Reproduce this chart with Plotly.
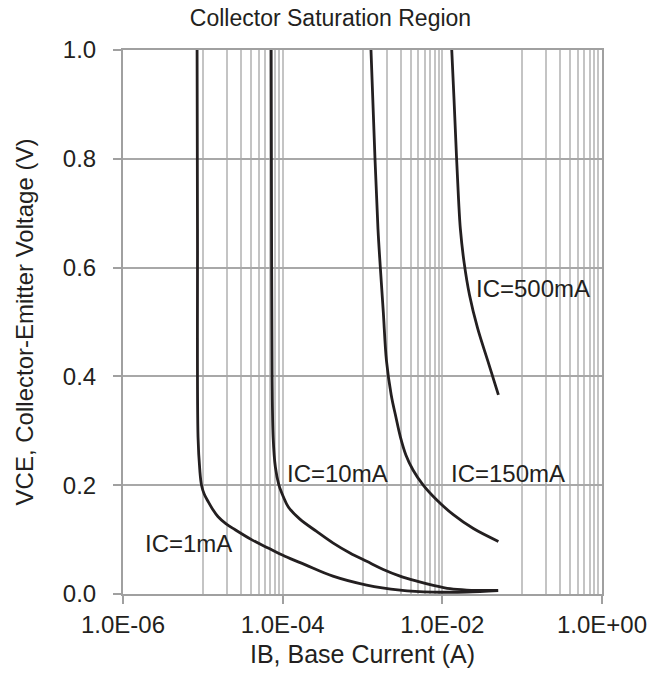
import numpy as np
import plotly.graph_objects as go

# ---- data ----
ib_1ma = [8.47e-6, 8.57e-6, 8.71e-6, 9.16e-6, 9.62e-6, 1.043e-5, 1.164e-5, 1.314e-5, 1.553e-5,
          1.940e-5, 2.52e-5, 4.07e-5, 6.58e-5, 1.066e-4, 1.90e-4, 4.26e-4, 1.128e-3, 2.95e-3,
          7.64e-3, 2.02e-2, 5.0e-2]
vce_1ma = [1.0, 0.671, 0.288, 0.228, 0.2005, 0.1832, 0.170, 0.1568, 0.142,
           0.1294, 0.1185, 0.100, 0.0844, 0.0693, 0.054, 0.0328, 0.0164, 0.0073,
           0.0036, 0.0036, 0.0064]

ib_10ma = [7.18e-5, 7.26e-5, 7.38e-5, 7.60e-5, 8.10e-5, 8.96e-5, 1.020e-4, 1.172e-4, 1.644e-4,
           2.66e-4, 4.30e-4, 6.96e-4, 1.128e-3, 1.82e-3, 2.95e-3, 4.78e-3, 7.71e-3, 1.25e-2,
           2.02e-2, 5.0e-2]
vce_10ma = [1.0, 0.671, 0.3975, 0.288, 0.2334, 0.2005, 0.1787, 0.1604, 0.1376,
            0.115, 0.0935, 0.0753, 0.060, 0.045, 0.0328, 0.0237, 0.0159, 0.0097,
            0.0073, 0.0067]

ib_150ma = [1.277e-3, 1.432e-3, 1.563e-3, 1.670e-3, 1.820e-3, 1.997e-3, 2.286e-3, 2.627e-3,
            2.991e-3, 3.505e-3, 4.292e-3, 5.728e-3, 8.46e-3, 1.373e-2, 2.447e-2, 5.04e-2]
vce_150ma = [1.0, 0.802, 0.671, 0.6016, 0.5196, 0.4284, 0.3664, 0.3245,
             0.2881, 0.2552, 0.2279, 0.2005, 0.1732, 0.1458, 0.1203, 0.0966]

ib_500ma = [1.312e-2, 1.402e-2, 1.507e-2, 1.596e-2, 1.682e-2, 1.871e-2, 2.193e-2, 2.759e-2,
            3.720e-2, 5.04e-2]
vce_500ma = [1.0, 0.908, 0.802, 0.7256, 0.671, 0.610, 0.549, 0.489, 0.428, 0.366]

series_names = ["IC=1mA", "IC=10mA", "IC=150mA", "IC=500mA"]
label_x = [6.58e-6, 4.85e-4, 6.58e-2, 1.37e-1]
label_y = [0.092, 0.2215, 0.2215, 0.5615]

x_tickvals = [1e-6, 1e-4, 1e-2, 1e0]
x_ticktext = ["1.0E-06", "1.0E-04", "1.0E-02", "1.0E+00"]
x_minor = [k * 10.0 ** e for e in (-5, -3, -1) for k in range(1, 10)]
y_tickvals = [0.0, 0.2, 0.4, 0.6, 0.8, 1.0]

title_text = "Collector Saturation Region"
x_title = "IB, Base Current (A)"
y_title = "VCE, Collector-Emitter Voltage (V)"

# ---- figure ----
FONT = "Liberation Sans, Arial, sans-serif"
TXT = "#231f20"
LINE = "#231f20"

fig = go.Figure()
for xs, ys, name in zip([ib_1ma, ib_10ma, ib_150ma, ib_500ma],
                        [vce_1ma, vce_10ma, vce_150ma, vce_500ma], series_names):
    fig.add_trace(go.Scatter(x=xs, y=ys, mode="lines", name=name,
                             line=dict(color=LINE, width=2.8, shape="spline", smoothing=1.0),
                             showlegend=False, cliponaxis=False))

for name, lx, ly in zip(series_names, label_x, label_y):
    fig.add_annotation(x=float(np.log10(lx)), y=ly, xref="x", yref="y", text=name,
                       showarrow=False,
                       font=dict(family=FONT, size=24, color=TXT),
                       xanchor="center", yanchor="middle")

fig.update_layout(
    width=661, height=676,
    margin=dict(l=123, r=59, t=50, b=78),
    paper_bgcolor="white", plot_bgcolor="white",
    font=dict(family=FONT, size=23, color=TXT),
    title=dict(text=title_text, x=0.5, xref="container", xanchor="center",
               y=1 - 18 / 676, yref="container", yanchor="middle",
               font=dict(family=FONT, size=23, color=TXT)),
)

fig.update_xaxes(
    type="log", range=[-6, 0],
    tickmode="array", tickvals=x_tickvals, ticktext=x_ticktext,
    ticks="outside", ticklen=8, tickwidth=1.5, tickcolor="#a0a0a0",
    showgrid=True, gridcolor="#c4c4c4", gridwidth=1.5,
    minor=dict(tickmode="array", tickvals=x_minor, showgrid=True,
               gridcolor="#c4c4c4", gridwidth=1.5, ticks=""),
    showline=True, linecolor="#a0a0a0", linewidth=2, mirror=True,
    zeroline=False,
    tickfont=dict(family=FONT, size=24, color=TXT),
    title=dict(text=x_title, font=dict(family=FONT, size=25, color=TXT), standoff=9),
)

fig.update_yaxes(
    range=[0, 1],
    tickmode="array", tickvals=y_tickvals, tickformat=".1f",
    ticks="outside", ticklen=8, tickwidth=1.5, tickcolor="#a0a0a0",
    showgrid=True, gridcolor="#a8a8a8", gridwidth=2,
    showline=True, linecolor="#a0a0a0", linewidth=2, mirror=True,
    zeroline=False,
    ticklabelstandoff=12,
    tickfont=dict(family=FONT, size=24, color=TXT),
    title=dict(text=y_title, font=dict(family=FONT, size=24, color=TXT), standoff=22),
)

fig.write_html("out.html")
